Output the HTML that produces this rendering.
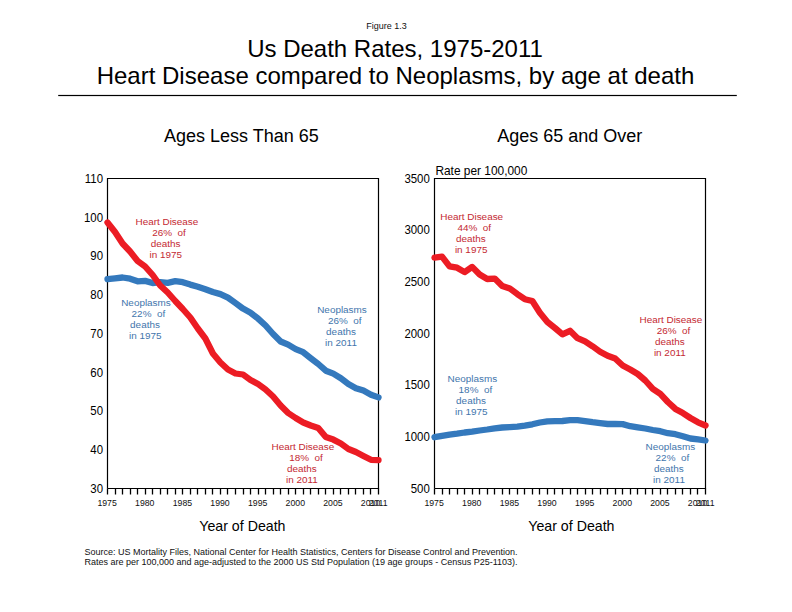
<!DOCTYPE html><html><head><meta charset="utf-8"><style>
html,body{margin:0;padding:0;background:#fff;width:792px;height:612px;overflow:hidden}
svg{display:block} text{font-family:"Liberation Sans", sans-serif}
</style></head><body>
<svg width="792" height="612" viewBox="0 0 792 612">
<rect width="792" height="612" fill="#fff"/>
<text x="366.2" y="29.2" font-size="9" fill="#111">Figure 1.3</text>
<text x="395" y="56.5" font-size="24" text-anchor="middle" fill="#000">Us Death Rates, 1975-2011</text>
<text x="395.5" y="83.8" font-size="24" text-anchor="middle" fill="#000">Heart Disease compared to Neoplasms, by age at death</text>
<rect x="58.2" y="94.9" width="678.6" height="1.2" fill="#000"/>
<text x="241.4" y="142" font-size="18" text-anchor="middle" fill="#000">Ages Less Than 65</text>
<text x="569.7" y="142" font-size="18" text-anchor="middle" fill="#000">Ages 65 and Over</text>
<path d="M107.50,488.50V494.50M115.50,488.50V494.50M122.50,488.50V494.50M130.50,488.50V494.50M137.50,488.50V494.50M145.50,488.50V494.50M152.50,488.50V494.50M160.50,488.50V494.50M167.50,488.50V494.50M175.50,488.50V494.50M182.50,488.50V494.50M190.50,488.50V494.50M197.50,488.50V494.50M205.50,488.50V494.50M212.50,488.50V494.50M220.50,488.50V494.50M227.50,488.50V494.50M235.50,488.50V494.50M243.50,488.50V494.50M250.50,488.50V494.50M258.50,488.50V494.50M265.50,488.50V494.50M273.50,488.50V494.50M280.50,488.50V494.50M288.50,488.50V494.50M295.50,488.50V494.50M303.50,488.50V494.50M310.50,488.50V494.50M318.50,488.50V494.50M325.50,488.50V494.50M333.50,488.50V494.50M340.50,488.50V494.50M348.50,488.50V494.50M355.50,488.50V494.50M363.50,488.50V494.50M370.50,488.50V494.50M378.50,488.50V494.50" stroke="#000" stroke-width="1.3" fill="none"/>
<path d="M107.5,488.5V178.5H378.5V488.5H107.5" stroke="#000" stroke-width="1.2" fill="none" />
<text transform="translate(103.0,492.80) scale(0.93,1)" font-size="12.3" text-anchor="end" fill="#000">30</text>
<text transform="translate(103.0,454.05) scale(0.93,1)" font-size="12.3" text-anchor="end" fill="#000">40</text>
<text transform="translate(103.0,415.30) scale(0.93,1)" font-size="12.3" text-anchor="end" fill="#000">50</text>
<text transform="translate(103.0,376.55) scale(0.93,1)" font-size="12.3" text-anchor="end" fill="#000">60</text>
<text transform="translate(103.0,337.80) scale(0.93,1)" font-size="12.3" text-anchor="end" fill="#000">70</text>
<text transform="translate(103.0,299.05) scale(0.93,1)" font-size="12.3" text-anchor="end" fill="#000">80</text>
<text transform="translate(103.0,260.30) scale(0.93,1)" font-size="12.3" text-anchor="end" fill="#000">90</text>
<text transform="translate(103.0,221.55) scale(0.93,1)" font-size="12.3" text-anchor="end" fill="#000">100</text>
<text transform="translate(103.0,182.80) scale(0.93,1)" font-size="12.3" text-anchor="end" fill="#000">110</text>
<text transform="translate(107.10,505.8) scale(0.9,1)" font-size="9.7" text-anchor="middle" fill="#111">1975</text>
<text transform="translate(144.74,505.8) scale(0.9,1)" font-size="9.7" text-anchor="middle" fill="#111">1980</text>
<text transform="translate(182.38,505.8) scale(0.9,1)" font-size="9.7" text-anchor="middle" fill="#111">1985</text>
<text transform="translate(220.02,505.8) scale(0.9,1)" font-size="9.7" text-anchor="middle" fill="#111">1990</text>
<text transform="translate(257.66,505.8) scale(0.9,1)" font-size="9.7" text-anchor="middle" fill="#111">1995</text>
<text transform="translate(295.29,505.8) scale(0.9,1)" font-size="9.7" text-anchor="middle" fill="#111">2000</text>
<text transform="translate(332.93,505.8) scale(0.9,1)" font-size="9.7" text-anchor="middle" fill="#111">2005</text>
<text transform="translate(370.57,505.8) scale(0.9,1)" font-size="9.7" text-anchor="middle" fill="#111">2010</text>
<text transform="translate(378.10,505.8) scale(0.9,1)" font-size="9.7" text-anchor="middle" fill="#111">2011</text>
<polyline points="107.50,279.10 115.03,278.30 122.56,277.50 130.08,278.70 137.61,281.30 145.14,280.90 152.67,283.00 160.19,282.20 167.72,282.80 175.25,281.20 182.78,282.20 190.31,284.60 197.83,286.70 205.36,289.20 212.89,292.00 220.42,294.10 227.94,297.60 235.47,303.00 243.00,308.60 250.53,312.70 258.06,318.60 265.58,325.50 273.11,334.00 280.64,341.50 288.17,344.60 295.69,349.10 303.22,352.20 310.75,358.20 318.28,364.00 325.81,370.70 333.33,373.60 340.86,378.20 348.39,384.00 355.92,388.20 363.44,390.60 370.97,394.70 378.50,397.40" stroke="#3479bd" stroke-width="6.3" fill="none" stroke-linejoin="round" stroke-linecap="round"/>
<polyline points="107.50,222.50 115.03,232.00 122.56,243.50 130.08,251.50 137.61,261.00 145.14,266.50 152.67,275.00 160.19,285.50 167.72,292.50 175.25,301.00 182.78,309.00 190.31,317.50 197.83,328.50 205.36,338.50 212.89,353.50 220.42,362.50 227.94,369.50 235.47,373.50 243.00,374.50 250.53,380.00 258.06,384.00 265.58,389.50 273.11,396.50 280.64,405.50 288.17,413.00 295.69,418.00 303.22,422.50 310.75,425.50 318.28,428.00 325.81,437.00 333.33,439.60 340.86,443.50 348.39,449.00 355.92,452.00 363.44,456.00 370.97,459.80 378.50,460.20" stroke="#ec1c24" stroke-width="6.3" fill="none" stroke-linejoin="round" stroke-linecap="round"/>
<path d="M434.50,488.50V494.50M442.50,488.50V494.50M449.50,488.50V494.50M457.50,488.50V494.50M464.50,488.50V494.50M472.50,488.50V494.50M479.50,488.50V494.50M487.50,488.50V494.50M494.50,488.50V494.50M502.50,488.50V494.50M509.50,488.50V494.50M517.50,488.50V494.50M524.50,488.50V494.50M532.50,488.50V494.50M539.50,488.50V494.50M547.50,488.50V494.50M554.50,488.50V494.50M562.50,488.50V494.50M570.50,488.50V494.50M577.50,488.50V494.50M585.50,488.50V494.50M592.50,488.50V494.50M600.50,488.50V494.50M607.50,488.50V494.50M615.50,488.50V494.50M622.50,488.50V494.50M630.50,488.50V494.50M637.50,488.50V494.50M645.50,488.50V494.50M652.50,488.50V494.50M660.50,488.50V494.50M667.50,488.50V494.50M675.50,488.50V494.50M682.50,488.50V494.50M690.50,488.50V494.50M697.50,488.50V494.50M705.50,488.50V494.50" stroke="#000" stroke-width="1.3" fill="none"/>
<path d="M434.5,488.5V178.5H705.5V488.5H434.5" stroke="#000" stroke-width="1.2" fill="none" />
<text transform="translate(429.8,492.80) scale(0.93,1)" font-size="12.3" text-anchor="end" fill="#000">500</text>
<text transform="translate(429.8,441.13) scale(0.93,1)" font-size="12.3" text-anchor="end" fill="#000">1000</text>
<text transform="translate(429.8,389.47) scale(0.93,1)" font-size="12.3" text-anchor="end" fill="#000">1500</text>
<text transform="translate(429.8,337.80) scale(0.93,1)" font-size="12.3" text-anchor="end" fill="#000">2000</text>
<text transform="translate(429.8,286.13) scale(0.93,1)" font-size="12.3" text-anchor="end" fill="#000">2500</text>
<text transform="translate(429.8,234.47) scale(0.93,1)" font-size="12.3" text-anchor="end" fill="#000">3000</text>
<text transform="translate(429.8,182.80) scale(0.93,1)" font-size="12.3" text-anchor="end" fill="#000">3500</text>
<text transform="translate(434.10,505.8) scale(0.9,1)" font-size="9.7" text-anchor="middle" fill="#111">1975</text>
<text transform="translate(471.74,505.8) scale(0.9,1)" font-size="9.7" text-anchor="middle" fill="#111">1980</text>
<text transform="translate(509.38,505.8) scale(0.9,1)" font-size="9.7" text-anchor="middle" fill="#111">1985</text>
<text transform="translate(547.02,505.8) scale(0.9,1)" font-size="9.7" text-anchor="middle" fill="#111">1990</text>
<text transform="translate(584.66,505.8) scale(0.9,1)" font-size="9.7" text-anchor="middle" fill="#111">1995</text>
<text transform="translate(622.29,505.8) scale(0.9,1)" font-size="9.7" text-anchor="middle" fill="#111">2000</text>
<text transform="translate(659.93,505.8) scale(0.9,1)" font-size="9.7" text-anchor="middle" fill="#111">2005</text>
<text transform="translate(697.57,505.8) scale(0.9,1)" font-size="9.7" text-anchor="middle" fill="#111">2010</text>
<text transform="translate(705.10,505.8) scale(0.9,1)" font-size="9.7" text-anchor="middle" fill="#111">2011</text>
<polyline points="434.50,437.20 442.03,435.80 449.56,434.60 457.08,433.70 464.61,432.50 472.14,431.70 479.67,430.50 487.19,429.50 494.72,428.30 502.25,427.50 509.78,427.10 517.31,426.60 524.83,425.60 532.36,424.30 539.89,422.50 547.42,421.30 554.94,421.10 562.47,421.00 570.00,420.20 577.53,420.20 585.06,421.10 592.58,422.20 600.11,423.10 607.64,424.00 615.17,424.00 622.69,424.10 630.22,426.20 637.75,427.40 645.28,428.50 652.81,430.00 660.33,431.20 667.86,433.20 675.39,434.20 682.92,436.20 690.44,438.50 697.97,439.40 705.50,440.50" stroke="#3479bd" stroke-width="6.3" fill="none" stroke-linejoin="round" stroke-linecap="round"/>
<polyline points="434.50,257.70 442.03,256.60 449.56,266.40 457.08,267.70 464.61,272.10 472.14,266.90 479.67,274.50 487.19,279.00 494.72,278.60 502.25,286.00 509.78,288.40 517.31,294.10 524.83,299.20 532.36,301.00 539.89,312.70 547.42,322.00 554.94,328.00 562.47,334.30 570.00,330.80 577.53,338.20 585.06,341.40 592.58,346.30 600.11,351.70 607.64,355.80 615.17,358.50 622.69,365.50 630.22,369.50 637.75,374.00 645.28,380.50 652.81,388.80 660.33,393.80 667.86,402.00 675.39,408.90 682.92,413.10 690.44,418.00 697.97,422.30 705.50,425.50" stroke="#ec1c24" stroke-width="6.3" fill="none" stroke-linejoin="round" stroke-linecap="round"/>
<text x="435.4" y="174.6" font-size="11.9" fill="#000">Rate per 100,000</text>
<text x="242.4" y="530.5" font-size="14.2" text-anchor="middle" fill="#000">Year of Death</text>
<text x="571.4" y="530.5" font-size="14.2" text-anchor="middle" fill="#000">Year of Death</text>
<text x="84.4" y="554.6" font-size="9" fill="#111">Source: US Mortality Files, National Center for Health Statistics, Centers for Disease Control and Prevention.</text>
<text x="84.4" y="564.6" font-size="9" fill="#111">Rates are per 100,000 and age-adjusted to the 2000 US Std Population (19 age groups - Census P25-1103).</text>
<text transform="translate(135.5,225.0) scale(1.067,1)" font-size="9.3" fill="#c42a33">Heart Disease</text>
<text transform="translate(152.20000000000002,236.1) scale(1.067,1)" font-size="9.3" fill="#c42a33">26%&#160; of</text>
<text transform="translate(150.70000000000002,247.0) scale(1.067,1)" font-size="9.3" fill="#c42a33">deaths</text>
<text transform="translate(149.6,258.0) scale(1.067,1)" font-size="9.3" fill="#c42a33">in 1975</text>
<text transform="translate(121.2,306.09999999999997) scale(1.067,1)" font-size="9.3" fill="#4275ac">Neoplasms</text>
<text transform="translate(131.6,317.2) scale(1.067,1)" font-size="9.3" fill="#4275ac">22%&#160; of</text>
<text transform="translate(130.1,328.0) scale(1.067,1)" font-size="9.3" fill="#4275ac">deaths</text>
<text transform="translate(129.1,338.9) scale(1.067,1)" font-size="9.3" fill="#4275ac">in 1975</text>
<text transform="translate(317.2,313.4) scale(1.067,1)" font-size="9.3" fill="#4275ac">Neoplasms</text>
<text transform="translate(327.9,324.29999999999995) scale(1.067,1)" font-size="9.3" fill="#4275ac">26%&#160; of</text>
<text transform="translate(326.09999999999997,335.0) scale(1.067,1)" font-size="9.3" fill="#4275ac">deaths</text>
<text transform="translate(325.09999999999997,345.9) scale(1.067,1)" font-size="9.3" fill="#4275ac">in 2011</text>
<text transform="translate(271.5,450.0) scale(1.067,1)" font-size="9.3" fill="#c42a33">Heart Disease</text>
<text transform="translate(289.2,461.09999999999997) scale(1.067,1)" font-size="9.3" fill="#c42a33">18%&#160; of</text>
<text transform="translate(287.0,472.0) scale(1.067,1)" font-size="9.3" fill="#c42a33">deaths</text>
<text transform="translate(286.0,482.9) scale(1.067,1)" font-size="9.3" fill="#c42a33">in 2011</text>
<text transform="translate(440.29999999999995,220.0) scale(1.067,1)" font-size="9.3" fill="#c42a33">Heart Disease</text>
<text transform="translate(457.4,231.1) scale(1.067,1)" font-size="9.3" fill="#c42a33">44%&#160; of</text>
<text transform="translate(456.0,242.0) scale(1.067,1)" font-size="9.3" fill="#c42a33">deaths</text>
<text transform="translate(454.9,252.9) scale(1.067,1)" font-size="9.3" fill="#c42a33">in 1975</text>
<text transform="translate(639.5,323.0) scale(1.067,1)" font-size="9.3" fill="#c42a33">Heart Disease</text>
<text transform="translate(656.6999999999999,334.0) scale(1.067,1)" font-size="9.3" fill="#c42a33">26%&#160; of</text>
<text transform="translate(654.9,344.9) scale(1.067,1)" font-size="9.3" fill="#c42a33">deaths</text>
<text transform="translate(653.9,355.9) scale(1.067,1)" font-size="9.3" fill="#c42a33">in 2011</text>
<text transform="translate(447.5,382.0) scale(1.067,1)" font-size="9.3" fill="#4275ac">Neoplasms</text>
<text transform="translate(458.59999999999997,393.0) scale(1.067,1)" font-size="9.3" fill="#4275ac">18%&#160; of</text>
<text transform="translate(456.09999999999997,403.9) scale(1.067,1)" font-size="9.3" fill="#4275ac">deaths</text>
<text transform="translate(455.09999999999997,414.79999999999995) scale(1.067,1)" font-size="9.3" fill="#4275ac">in 1975</text>
<text transform="translate(645.5,450.0) scale(1.067,1)" font-size="9.3" fill="#4275ac">Neoplasms</text>
<text transform="translate(655.6,461.09999999999997) scale(1.067,1)" font-size="9.3" fill="#4275ac">22%&#160; of</text>
<text transform="translate(653.9,472.0) scale(1.067,1)" font-size="9.3" fill="#4275ac">deaths</text>
<text transform="translate(653.1,482.9) scale(1.067,1)" font-size="9.3" fill="#4275ac">in 2011</text>
</svg></body></html>
